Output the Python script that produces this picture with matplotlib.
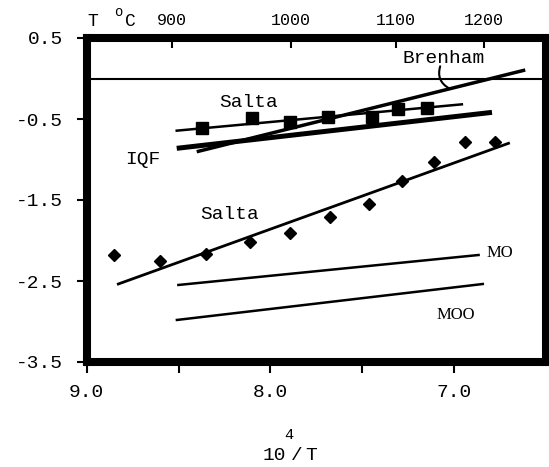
import matplotlib
matplotlib.use("Agg")
import matplotlib.pyplot as plt

# x = 10^4/T, y = log value
salta_sq_x = [8.374, 8.101, 7.893, 7.684, 7.448, 7.303, 7.148]
salta_sq_y = [-0.615, -0.491, -0.533, -0.479, -0.472, -0.380, -0.360]
salta_sq_fit_x = [8.51, 6.958]
salta_sq_fit_y = [-0.644, -0.319]

salta_di_x = [8.850, 8.600, 8.350, 8.110, 7.893, 7.675, 7.466, 7.284, 7.112, 6.940, 6.776]
salta_di_y = [-2.179, -2.249, -2.167, -2.015, -1.911, -1.706, -1.549, -1.265, -1.035, -0.788, -0.788]
salta_di_fit_x = [8.828, 6.704]
salta_di_fit_y = [-2.537, -0.800]

brenham_level = 0.0
brenham_x = [8.401, 6.613]
brenham_y = [-0.904, 0.105]

iqf_x = [8.51, 6.794]
iqf_y = [-0.862, -0.418]

mo_x = [8.501, 6.867]
mo_y = [-2.549, -2.179]
moo_x = [8.509, 6.844]
moo_y = [-2.981, -2.537]

yticks = [0.5, -0.5, -1.5, -2.5, -3.5]
ytick_labels = ["0.5", "-0.5", "-1.5", "-2.5", "-3.5"]
xticks = [9.0, 8.0, 7.0]
xtick_labels = ["9.0", "8.0", "7.0"]
top_ticks = [8.537, 7.889, 7.315, 6.836]
top_labels = ["900", "1000", "1100", "1200"]

mono = "Liberation Mono"
W, H = 549, 467

fig = plt.figure(figsize=(5.49, 4.67), dpi=100)
ax = fig.add_axes([86.7 / W, 1 - 362 / H, (546 - 86.7) / W, (362 - 38) / H])

ax.axhline(brenham_level, color="black", lw=1.5)
ax.plot(brenham_x, brenham_y, color="black", lw=2.5, solid_capstyle="butt")
ax.plot(iqf_x, iqf_y, color="black", lw=3.6, solid_capstyle="butt")
ax.plot(salta_sq_fit_x, salta_sq_fit_y, color="black", lw=1.8)
ax.plot(salta_sq_x, salta_sq_y, "s", color="black", ms=8.5)
ax.plot(salta_di_fit_x, salta_di_fit_y, color="black", lw=2.0)
ax.plot(salta_di_x, salta_di_y, "D", color="black", ms=6)
ax.plot(mo_x, mo_y, color="black", lw=1.8)
ax.plot(moo_x, moo_y, color="black", lw=1.8)

ax.text(7.058, 0.247, "Brenham", family=mono, fontsize=14, ha="center", va="center")
ax.annotate("", xy=(7.027, -0.122), xytext=(7.076, 0.150),
            arrowprops=dict(arrowstyle="-", color="black", lw=1.5,
                            connectionstyle="arc3,rad=0.4",
                            shrinkA=0, shrinkB=0))
ax.text(8.116, -0.299, "Salta", family=mono, fontsize=14, ha="center", va="center")
ax.text(8.696, -0.998, "IQF", family=mono, fontsize=14, ha="center", va="center")
ax.text(8.22, -1.685, "Salta", family=mono, fontsize=14, ha="center", va="center")
ax.text(6.749, -2.158, "MO", family="Liberation Serif", fontsize=12, ha="center", va="center")
ax.text(6.989, -2.92, "MOO", family="Liberation Serif", fontsize=12, ha="center", va="center")

ax.set_xlim(9.0, 6.5)
ax.set_ylim(-3.5, 0.5)
for s in ax.spines.values():
    s.set_linewidth(5.8)
ax.set_yticks(yticks)
ax.set_yticklabels(ytick_labels, family=mono, fontsize=14)
ax.set_xticks(xticks)
ax.set_xticklabels(xtick_labels, family=mono, fontsize=14)
ax.set_xticks([8.5, 7.5], minor=True)
ax.tick_params(axis="y", direction="out", length=7, width=1.5, pad=10)
ax.tick_params(axis="x", which="both", direction="out", length=8, width=1.5, pad=8)

top = ax.twiny()
top.set_xlim(ax.get_xlim())
for s in top.spines.values():
    s.set_visible(False)
top.set_xticks(top_ticks)
top.set_xticklabels(top_labels, family=mono, fontsize=12)
top.tick_params(axis="x", direction="in", length=7, width=1.5, pad=7)

# T °C header and 10^4 / T axis title
fig.text(93 / W, 1 - 21 / H, "T", family=mono, fontsize=13, ha="center", va="center")
fig.text(118 / W, 1 - 12 / H, "o", family=mono, fontsize=10, ha="center", va="center")
fig.text(130 / W, 1 - 21 / H, "C", family=mono, fontsize=13, ha="center", va="center")
fig.text(274 / W, 1 - 455 / H, "10", family=mono, fontsize=14, ha="center", va="center")
fig.text(289 / W, 1 - 435 / H, "4", family=mono, fontsize=11, ha="center", va="center")
fig.text(297 / W, 1 - 455 / H, "/", family=mono, fontsize=14, ha="center", va="center")
fig.text(311 / W, 1 - 455 / H, "T", family=mono, fontsize=14, ha="center", va="center")

fig.savefig("out.png", dpi=100)
